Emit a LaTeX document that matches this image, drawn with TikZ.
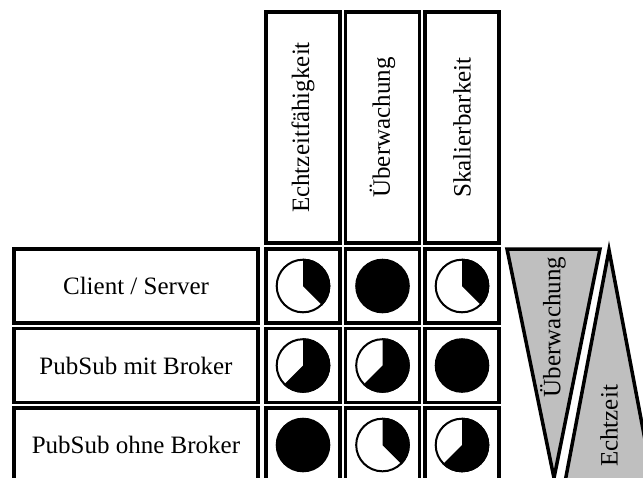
\documentclass[tikz,border=0pt]{standalone}
\usepackage{fontspec}
\setmainfont{Liberation Serif}
\begin{document}
\begin{tikzpicture}[x=1pt,y=1pt,
  boxframe/.style={draw=black, line width=3.5pt, fill=white, inner sep=0pt,
    font=\fontsize{25}{30}\selectfont},
  cellbox/.style={boxframe, minimum width=74pt, minimum height=74pt},
  rowbox/.style={boxframe, minimum width=244pt, minimum height=74pt},
  headbox/.style={boxframe, rotate=90, minimum width=231pt, minimum height=74pt},
  piering/.style={draw=black, line width=2pt, fill=white},
  funnelshape/.style={draw=black, line width=3.5pt, fill=black!25, line join=miter},
  funneltext/.style={font=\fontsize{25}{30}\selectfont, rotate=90, inner sep=0pt}
]
\useasboundingbox (0,0) rectangle (643,-477);
\clip (0,0) rectangle (643,-477);

% column headers
\node[headbox] (h1) at (303,-127.5) {Echtzeitfähigkeit};
\node[headbox] (h2) at (382.5,-127.5) {Überwachung};
\node[headbox] (h3) at (462,-127.5) {Skalierbarkeit};

% row labels
\node[rowbox] (r1) at (136,-286) {Client / Server};
\node[rowbox] (r2) at (136,-365.5) {PubSub mit Broker};
\node[rowbox] (r3) at (136,-445) {PubSub ohne Broker};

% rating cells
\foreach \r/\y in {1/-286, 2/-365.5, 3/-445}
  \foreach \c/\x in {1/303, 2/382.5, 3/462}
    \node[cellbox] (c\r\c) at (\x,\y) {};

% ratings in eighths (8 = full)
\foreach \n/\f in {c11/3, c12/8, c13/3, c21/5, c22/5, c23/8, c31/8, c32/3, c33/5} {
  \ifnum\f=8
    \fill[black] (\n.center) circle[radius=27.3];
  \else
    \draw[piering] (\n.center) circle[radius=26.3];
    \fill[black] (\n.center) -- ++(90:27.3)
      arc[start angle=90, end angle={90-45*\f}, radius=27.3] -- cycle;
  \fi
}

% trend wedges
\coordinate (u1) at (507,-249);
\coordinate (u2) at (600,-249);
\coordinate (u3) at (554,-478);
\draw[funnelshape] (u1) -- (u2) -- (u3) -- cycle;
\coordinate (e1) at (609,-250);
\coordinate (e2) at (653,-482);
\coordinate (e3) at (565,-482);
\draw[funnelshape] (e1) -- (e2) -- (e3) -- cycle;
\node[funneltext] (ut) at (553,-327) {Überwachung};
\node[funneltext] (et) at (609,-426) {Echtzeit};
\end{tikzpicture}
\end{document}
